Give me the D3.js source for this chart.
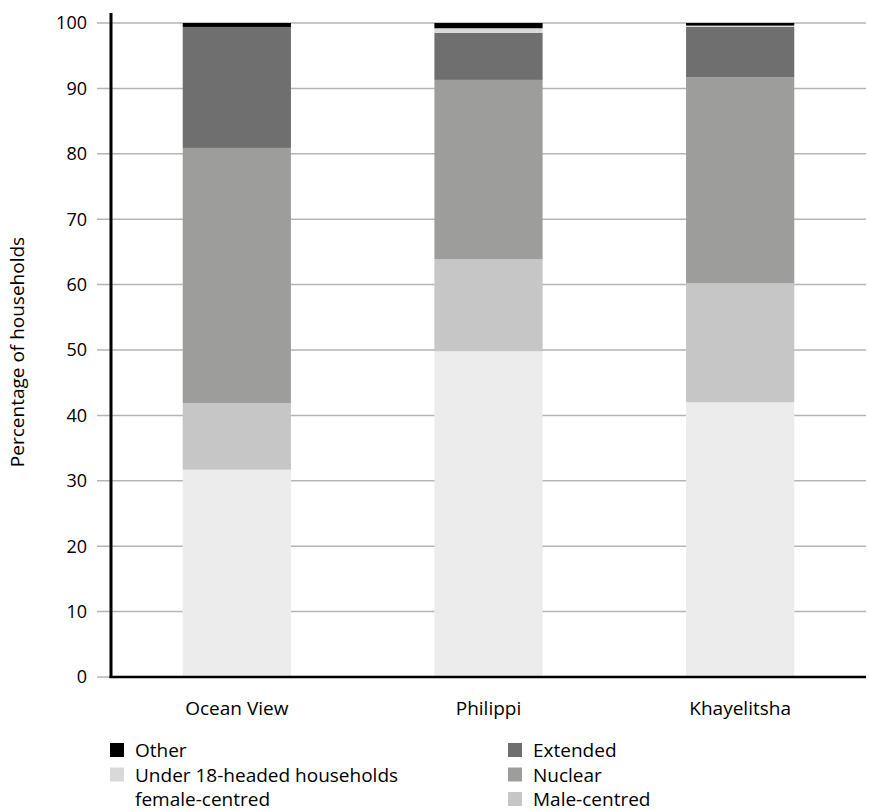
<!DOCTYPE html>
<html><head><meta charset="utf-8">
<script src="https://cdn.jsdelivr.net/npm/d3@7"></script>
<style>
html,body{margin:0;padding:0;background:#fff;}
text{font-family:"Open Sans",sans-serif;fill:#000;}
</style></head>
<body><svg id="chart" width="869" height="811"></svg>
<script>
const categories = ["Ocean View", "Philippi", "Khayelitsha"];
const femaleCentred = [31.7, 49.8, 42.0];
const maleCentred   = [10.2, 14.1, 18.2];
const nuclear       = [39.0, 27.4, 31.5];
const extended      = [18.5, 7.2, 7.7];
const under18       = [0.0, 0.7, 0.2];
const other         = [0.6, 0.8, 0.4];
const yTicks = [0,10,20,30,40,50,60,70,80,90,100];

const seriesKeys = ["female","male","nuclear","extended","under18","other"];
const seriesNames = {female:"female-centred", male:"Male-centred", nuclear:"Nuclear", extended:"Extended", under18:"Under 18-headed households", other:"Other"};
const colors = {female:"#ececec", male:"#c6c6c6", nuclear:"#9d9d9b", extended:"#6f6f6f", under18:"#d9d9d9", other:"#000000"};

const rows = categories.map((c,i)=>({cat:c, female:femaleCentred[i], male:maleCentred[i], nuclear:nuclear[i], extended:extended[i], under18:under18[i], other:other[i]}));

const svg = d3.select("#chart");
const x0 = 111, x1 = 866, yTop = 23, yBot = 677;
const fs = "19px";
const x = d3.scaleBand().domain(categories).range([x0, x1]).paddingInner(0.57).paddingOuter(0.285);
const y = d3.scaleLinear().domain([0,100]).range([yBot, yTop]);

// gridlines + ticks
const grid = svg.append("g");
grid.selectAll("line").data(yTicks).join("line")
  .attr("x1", 97).attr("x2", x1).attr("y1", d=>y(d)).attr("y2", d=>y(d))
  .attr("stroke", "#b5b5b5").attr("stroke-width", 1.5);
svg.append("g").selectAll("text").data(yTicks).join("text")
  .attr("x", 87).attr("y", d=>y(d)).attr("dy","0.36em")
  .attr("text-anchor","end").style("font-size","18px").text(d=>d);

// bars
const stack = d3.stack().keys(seriesKeys)(rows);
svg.append("g").selectAll("g").data(stack).join("g")
  .attr("fill", d=>colors[d.key])
  .selectAll("rect").data(d=>d).join("rect")
  .attr("x", d=>x(d.data.cat)).attr("width", x.bandwidth())
  .attr("y", d=>y(d[1])).attr("height", d=>Math.max(0, y(d[0])-y(d[1])));

// axes lines
svg.append("line").attr("x1", x0).attr("x2", x0).attr("y1", 13).attr("y2", yBot+1)
  .attr("stroke","#000").attr("stroke-width",3);
svg.append("line").attr("x1", x0-1.5).attr("x2", x1).attr("y1", yBot).attr("y2", yBot)
  .attr("stroke","#000").attr("stroke-width",2.5);

// category labels
svg.append("g").selectAll("text").data(categories).join("text")
  .attr("x", d=>x(d)+x.bandwidth()/2).attr("y", 715)
  .attr("text-anchor","middle").style("font-size",fs).text(d=>d);

// y title
svg.append("text").attr("transform","translate(24,352) rotate(-90)")
  .attr("text-anchor","middle").style("font-size",fs).text("Percentage of households");

// legend
const legendItems = [
  {key:"other", col:0, row:0}, {key:"extended", col:1, row:0},
  {key:"under18", col:0, row:1}, {key:"nuclear", col:1, row:1},
  {key:"female", col:0, row:2, noSwatch:true}, {key:"male", col:1, row:2}
];
const lg = svg.append("g");
const colX = [110, 508], rowY = [757, 781.5, 806];
legendItems.forEach(it=>{
  if(!it.noSwatch) lg.append("rect").attr("x", colX[it.col]).attr("y", rowY[it.row]-14).attr("width",14).attr("height",14).attr("fill", colors[it.key]);
  lg.append("text").attr("x", colX[it.col]+25).attr("y", rowY[it.row]).style("font-size",fs).text(seriesNames[it.key]);
});
</script></body></html>
